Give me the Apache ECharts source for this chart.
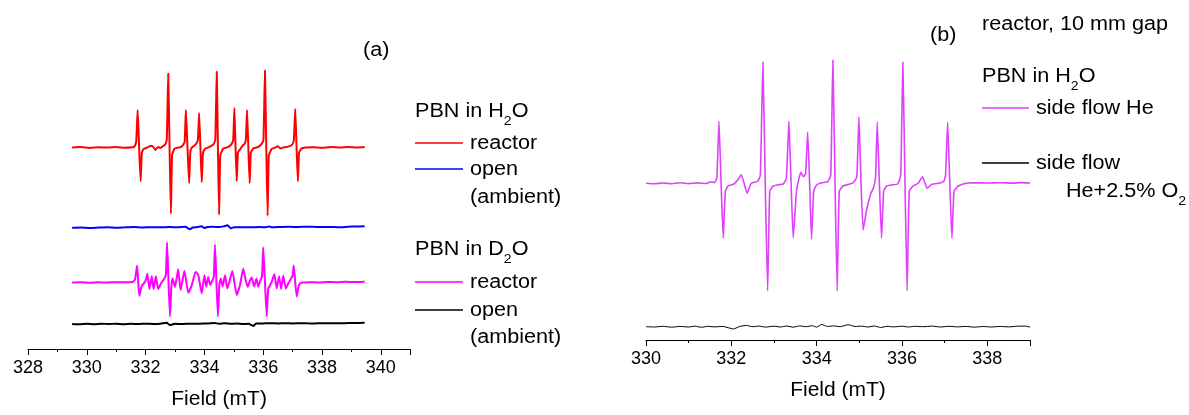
<!DOCTYPE html>
<html>
<head>
<meta charset="utf-8">
<script src="https://cdn.jsdelivr.net/npm/echarts@6/dist/echarts.min.js"></script>
<style>
html,body{margin:0;padding:0;background:#fff;}
#chart{width:1189px;height:415px;}
</style>
</head>
<body>
<div id="chart"></div>
<script>
// ---------- DATA (field in mT, derivative intensity in arbitrary units) ----------
// Panel (a): stacking offsets for the four traces (arb. units)
const offsetsA = [204, 123, 67.3, 25.3];
// PBN in H2O, reactor (red)
const h2oReactor = [
[329.5,0],[329.8,0.5],[330.1,-0.3],[330.4,0.4],[330.7,0],[331.0,0.5],[331.3,-0.2],[331.55,0.3],
[331.62,1],[331.68,6],[331.73,38],[331.78,0],[331.83,-34],[331.87,-6],[331.93,-1.5],
[332.05,0],[332.15,1.5],[332.21,2],[332.28,0],[332.34,-2.3],[332.4,0],[332.44,0.5],[332.5,-0.5],[332.57,1],[332.66,3],[332.72,8],
[332.77,75],[332.815,0],[332.86,-67],[332.9,-8],[332.98,-1],
[333.1,0],[333.2,0.5],[333.28,3],[333.33,6],[333.37,38],[333.425,0],[333.48,-36],[333.52,-5],[333.57,0],[333.66,2],[333.74,5],[333.78,8],
[333.82,35],[333.865,0],[333.91,-35],[333.95,-6],[334.02,-1.4],[334.12,0],[334.19,1],[334.3,3],[334.37,8],
[334.42,77],[334.46,0],[334.5,-68],[334.54,-8],[334.64,-1],[334.75,0],[334.85,1.5],[334.93,4],[334.98,8],
[335.02,40],[335.06,0],[335.1,-34],[335.14,-5],[335.21,-2],[335.3,2],[335.37,4],[335.41,8],
[335.45,38],[335.495,0],[335.54,-36],[335.58,-5],[335.66,-1],[335.76,0],[335.85,1],[335.95,4],[336.01,8],
[336.06,78],[336.105,0],[336.15,-69],[336.19,-8],[336.29,-1.4],[336.4,0],[336.49,1.3],[336.6,-1],[336.67,0],[336.74,0.5],[336.85,1],[336.97,2.5],[337.04,7],
[337.09,39],[337.135,0],[337.18,-34],[337.22,-5],[337.3,-1],[337.45,0],[337.7,0.4],[338.0,-0.2],[338.3,0.5],[338.6,0],[338.9,0.6],[339.2,0.2],[339.45,0.5]
];
// PBN in H2O, open (ambient) (blue)
const h2oOpen = [
[329.5,-0.3],[329.8,0],[330.1,-0.4],[330.4,0],[330.7,0.3],[331.0,-0.2],[331.3,0.2],[331.6,0.5],[331.9,0.1],[332.2,0.4],[332.5,0.2],[332.8,0.6],[333.1,0.3],[333.35,0.8],
[333.51,-1.7],[333.6,0],[333.75,0.4],[333.91,1.3],[334.0,-0.5],[334.1,0.5],[334.3,0.8],[334.5,0.6],[334.65,1.2],[334.79,2.3],[334.9,-0.8],[335.0,0.2],[335.3,0.2],[335.6,0.3],
[335.9,0.5],[336.05,0.2],[336.21,1.2],[336.3,0.3],[336.6,0.6],[336.9,0.8],[337.2,0.6],[337.5,0.9],[337.8,0.7],[338.1,0.6],[338.4,0.5],[338.7,0.4],[339.0,1],[339.45,1.3]
];
// PBN in D2O, reactor (magenta)
const d2oReactor = [
[329.5,0],[329.8,0.3],[330.1,-0.2],[330.4,0.3],[330.7,0],[331.0,0.4],[331.3,0.2],[331.55,0.5],
[331.64,3],[331.71,17.4],[331.75,0],[331.79,-13.6],[331.85,-5],[331.89,-2.6],[331.98,0.7],[332.02,4],[332.06,9],[332.13,-6.6],[332.21,6.4],[332.27,-6.6],
[332.35,6.4],[332.43,-6.6],[332.52,-1],[332.64,4],[332.69,8],[332.73,40.7],[332.78,0],[332.83,-34.3],[332.88,-2],[332.92,4],[333.0,-4.3],[333.11,13.4],
[333.19,-7.6],[333.32,12],[333.45,-10.3],[333.57,-2.6],[333.7,10.7],[333.79,8],[333.91,-11],[334.0,7.4],[334.06,-4.3],[334.13,5.7],[334.2,-2.6],[334.27,2],
[334.32,6],[334.36,38.4],[334.41,0],[334.46,-34.3],[334.51,-2],[334.56,4],[334.62,-4],[334.7,7.4],[334.78,-6],[334.95,11.7],[335.1,-12.6],[335.21,-2.6],
[335.32,14],[335.4,3],[335.47,-4.3],[335.55,2],[335.61,5],[335.69,-4],[335.77,4],[335.83,-4],[335.9,2],[335.96,6],[336.0,35.7],[336.06,0],[336.12,-34.3],
[336.17,-6],[336.21,-4],[336.29,1],[336.38,8.4],[336.46,-6],[336.54,6.4],[336.61,-6.6],[336.68,7],[336.77,-6],[336.85,-1],[336.95,4],[337.0,7],[337.04,17.4],
[337.09,0],[337.14,-14.3],[337.2,-4],[337.25,-1],[337.35,0],[337.6,0.4],[337.9,0.1],[338.2,0.6],[338.5,0.3],[338.8,0.8],[339.1,0.5],[339.45,0.9]
];
// PBN in D2O, open (ambient) (black)
const d2oOpen = [
[329.5,0],[329.75,-0.3],[330.0,0.2],[330.25,-0.2],[330.5,0.3],[330.75,0],[331.0,0.3],[331.25,-0.2],[331.5,0.2],[331.75,0],[332.0,0.4],[332.25,0.1],[332.5,0.3],
[332.72,1.3],[332.82,-1],[333.0,0.2],[333.25,0],[333.5,0.4],[333.75,0.2],[334.0,0.5],[334.2,0.8],[334.33,1],[334.5,0.3],[334.7,0.8],[334.9,0.3],[335.1,0.5],
[335.3,0],[335.5,0.2],[335.66,-2],[335.76,0.5],[336.0,0.6],[336.25,0.8],[336.5,0.6],[336.75,0.8],[337.0,0.6],[337.25,0.9],[337.5,0.7],[337.75,0.6],[338.0,0.8],
[338.25,0.7],[338.5,0.9],[338.75,0.8],[339.0,1],[339.45,1.2]
];
// Panel (b): stacking offsets
const offsetsB = [156.7, 13.3];
// PBN in H2O, side flow He (violet)
const sideFlowHe = [
[330.0,0],[330.2,-0.5],[330.4,0.3],[330.6,-0.4],[330.8,0.5],[331.0,-0.3],[331.2,0.4],[331.4,-0.2],[331.52,1.5],[331.6,0.5],
[331.66,5],[331.71,62.3],[331.76,0],[331.81,-55],[331.86,-8],[331.93,-2.4],[332.05,-1],[332.15,3.3],[332.23,8.6],[332.3,0],[332.37,-10],[332.46,-0.3],[332.53,1],
[332.62,2],[332.68,8],[332.74,121.3],[332.795,0],[332.85,-107.4],[332.9,-8],[332.98,-2.7],[333.1,-1.5],[333.22,-0.5],[333.29,5],
[333.35,62.3],[333.4,0],[333.45,-54.4],[333.53,-6.7],[333.63,11],[333.69,6.6],[333.74,10],
[333.79,51.3],[333.835,0],[333.88,-56],[333.93,-8],[334.0,-1.7],[334.12,0.5],[334.26,1.6],[334.33,8],
[334.38,123.3],[334.43,0],[334.48,-107.4],[334.53,-8],[334.62,-2.7],[334.75,-1],[334.85,0.3],[334.94,6],
[334.99,66.6],[335.04,0],[335.09,-46.7],[335.17,-26.7],[335.27,-10],[335.33,-5],[335.38,6],
[335.42,61.3],[335.47,0],[335.52,-55],[335.57,-8],[335.64,-2.7],[335.78,-1.5],[335.9,-0.7],[335.97,8],
[336.02,121.3],[336.07,0],[336.12,-107.4],[336.17,-8],[336.26,-2.7],[336.38,0],[336.48,6.6],[336.59,-5],[336.7,-1],[336.89,0.3],[336.98,2],[337.02,8],
[337.07,61],[337.12,0],[337.17,-55],[337.22,-8],[337.32,-2.7],[337.5,0],[337.7,0.5],[338.0,0.3],[338.3,0.6],[338.6,0.2],[338.8,0.7],[339.0,0.3]
];
// PBN in H2O, side flow He+2.5% O2 (black)
const sideFlowHeO2 = [
[330.0,0],[330.2,-0.3],[330.4,0.4],[330.6,-0.5],[330.8,0.3],[331.0,-0.3],[331.15,0.5],[331.3,-0.6],[331.45,0.4],[331.6,-0.2],[331.8,0.3],[332.05,-2.3],
[332.2,0.3],[332.35,1.3],[332.5,0],[332.65,0.6],[332.8,-0.4],[333.0,0.5],[333.15,-0.3],[333.3,0.7],[333.45,-0.5],[333.6,0.8],[333.75,0],[333.9,1],
[334.0,-0.4],[334.12,2.3],[334.25,0.2],[334.4,0.8],[334.55,0],[334.74,2],[334.9,0.2],[335.05,0.6],[335.2,-0.3],[335.35,0.7],[335.5,-0.8],[335.65,0.4],
[335.8,-0.2],[336.0,0.5],[336.15,-0.3],[336.3,0.4],[336.5,0],[336.7,0.6],[336.9,-0.3],[337.1,0.4],[337.3,-0.2],[337.5,0.3],[337.7,-0.5],[337.9,0.2],
[338.1,-0.3],[338.3,0.3],[338.5,-0.2],[338.7,0.5],[338.9,0.6],[339.0,-0.5]
];
const axisTitle = 'Field (mT)';

// ---------- CHART ----------
const FONT = '"Liberation Sans", Arial, sans-serif';
const chart = echarts.init(document.getElementById('chart'), null, {renderer:'canvas'});
const shift = (arr, off) => arr.map(p => [p[0], p[1] + off]);

function xAxisCfg(gridIndex, min, max) {
  return {
    type:'value', gridIndex, min, max, interval:2,
    name: axisTitle, nameLocation:'middle', nameGap:40,
    nameTextStyle:{fontSize:21, color:'#000', fontFamily:FONT},
    axisLine:{onZero:false, lineStyle:{color:'#000', width:1}},
    axisTick:{show:true, inside:false, length:6, lineStyle:{color:'#000'}},
    minorTick:{show:true, splitNumber:2, length:3, lineStyle:{color:'#000'}},
    axisLabel:{fontSize:18, color:'#000', fontFamily:FONT, margin:10, showMaxLabel:false},
    splitLine:{show:false}, minorSplitLine:{show:false}
  };
}
function yAxisCfg(gridIndex, max) {
  return {type:'value', gridIndex, min:0, max, show:false, splitLine:{show:false}};
}
function lineSeries(xi, data, color, width) {
  return {type:'line', xAxisIndex:xi, yAxisIndex:xi, data, showSymbol:false, symbol:'none',
    smooth:0.15, lineStyle:{color, width}, itemStyle:{color}, animation:false, z:3};
}

const SX = 1.08;
const base = {fill:'#000', fontSize:20, fontFamily:FONT, verticalAlign:'middle', align:'left'};
function txt(x, y, text, extra) {
  return {type:'text', x, y, scaleX:SX, style:Object.assign({}, base, {text}, extra || {})};
}
function subTxt(x, y, pre, sub, post) {
  return {type:'text', x, y, scaleX:SX, style:{
    text:'{n|' + pre + '}{s|' + sub + '}' + (post ? '{n|' + post + '}' : ''),
    verticalAlign:'middle', align:'left',
    rich:{
      n:{fontSize:20, fontFamily:FONT, fill:'#000', lineHeight:24, verticalAlign:'top'},
      s:{fontSize:13, fontFamily:FONT, fill:'#000', lineHeight:12, padding:[14,0,0,0], verticalAlign:'top'}
    }}};
}
function legLine(x1, x2, y, color) {
  return {type:'line', shape:{x1, y1:y, x2, y2:y}, style:{stroke:color, lineWidth:1.5}};
}

const option = {
  backgroundColor:'#fff',
  animation:false,
  grid:[
    {left:28, top:40, width:382.2, height:313},
    {left:646, top:40, width:384, height:300}
  ],
  xAxis:[xAxisCfg(0, 328, 341), xAxisCfg(1, 330, 339)],
  yAxis:[yAxisCfg(0, 313), yAxisCfg(1, 300)],
  series:[
    lineSeries(0, shift(h2oReactor, offsetsA[0]), '#ff0000', 2),
    lineSeries(0, shift(h2oOpen, offsetsA[1]), '#0000ff', 2),
    lineSeries(0, shift(d2oReactor, offsetsA[2]), '#ff00ff', 2),
    lineSeries(0, shift(d2oOpen, offsetsA[3]), '#000000', 2),
    lineSeries(1, shift(sideFlowHe, offsetsB[0]), '#e040fb', 1.6),
    lineSeries(1, shift(sideFlowHeO2, offsetsB[1]), '#000000', 1)
  ],
  graphic:[
    txt(363, 50, '(a)'),
    subTxt(415, 113, 'PBN in H', '2', 'O'),
    legLine(415, 463, 143, '#ff0000'), txt(470, 143, 'reactor'),
    legLine(415, 463, 169, '#0000ff'), txt(470, 169, 'open'),
    txt(470, 197, '(ambient)'),
    subTxt(415, 251, 'PBN in D', '2', 'O'),
    legLine(415, 463, 282, '#ff00ff'), txt(470, 282, 'reactor'),
    legLine(415, 463, 310, '#000000'), txt(470, 310, 'open'),
    txt(470, 337, '(ambient)'),
    txt(930, 35, '(b)'),
    txt(982, 24, 'reactor, 10 mm gap'),
    subTxt(982, 78, 'PBN in H', '2', 'O'),
    legLine(982, 1029, 108, '#e040fb'), txt(1036, 108, 'side flow He'),
    legLine(982, 1029, 163, '#000000'), txt(1036, 163, 'side flow'),
    subTxt(1066, 193, 'He+2.5% O', '2', '')
  ]
};
chart.setOption(option);
</script>
</body>
</html>
